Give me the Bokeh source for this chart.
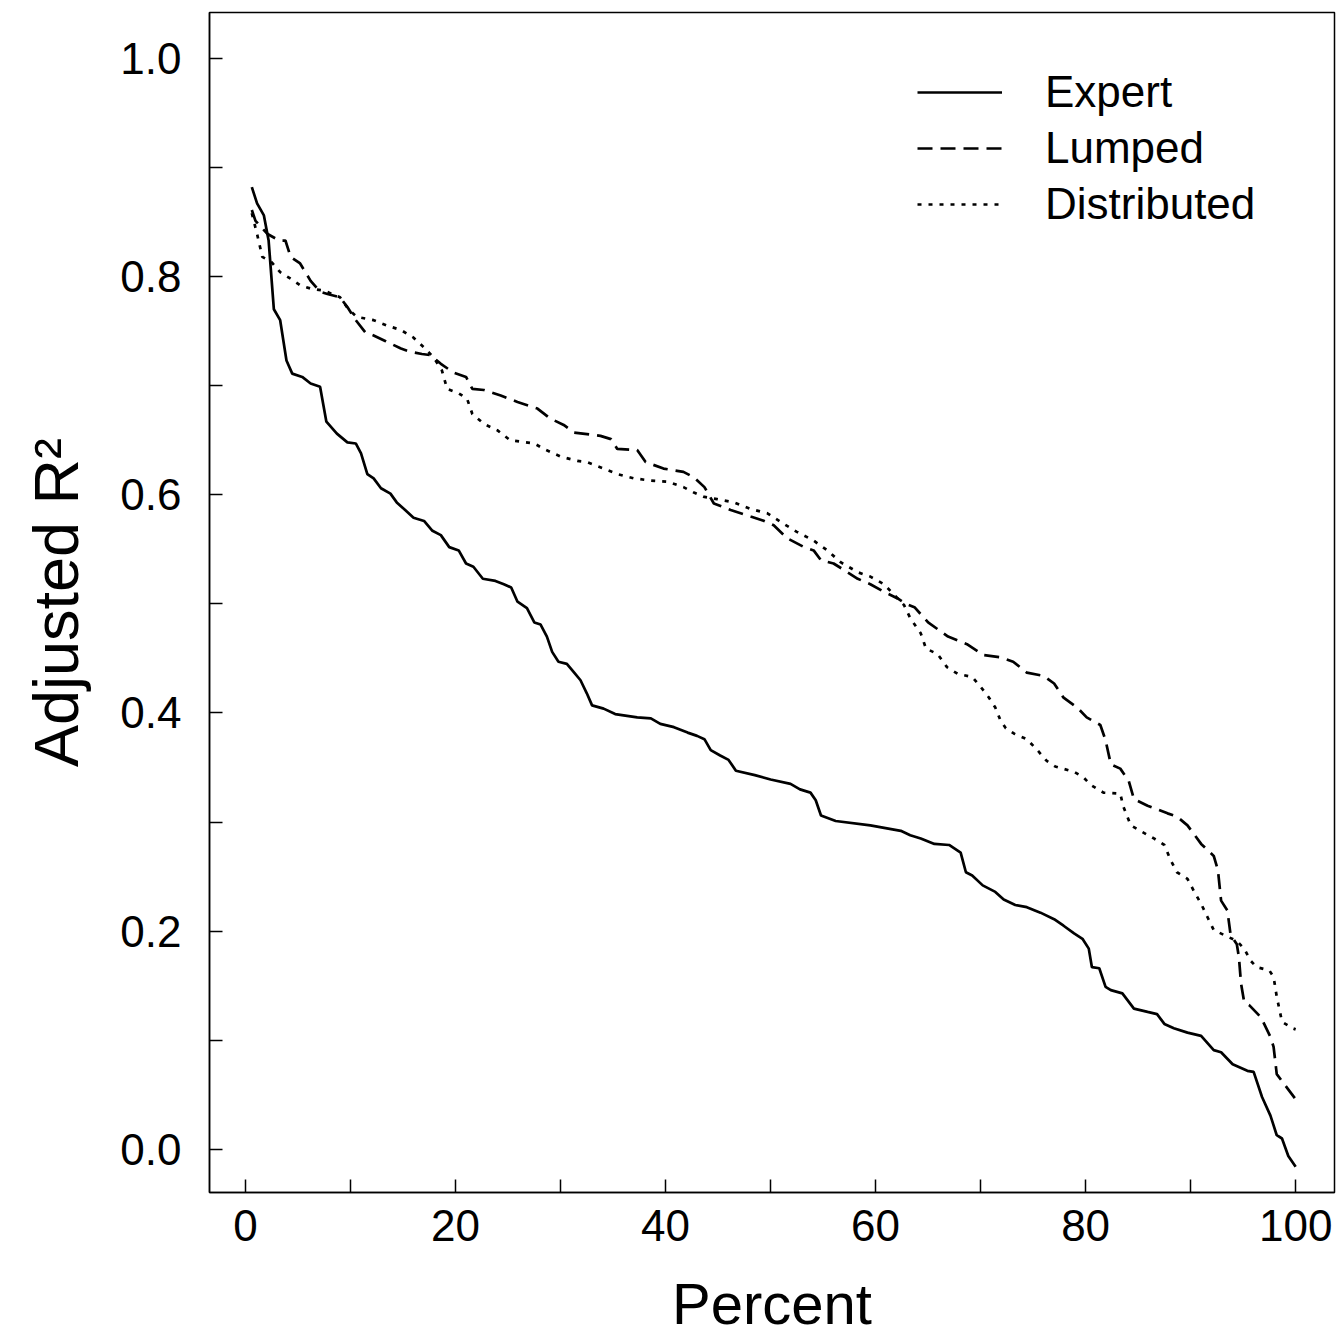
from bokeh.plotting import figure
from bokeh.models import Range1d, FixedTicker, PrintfTickFormatter, Legend, LegendItem
from bokeh.embed import file_html
from bokeh.resources import INLINE

# ---- data ----
expert_x = [0.6, 1.1, 1.75, 2.2, 2.7, 3.3, 3.9, 4.45, 5.4, 6.2, 7.1, 7.7, 8.7, 9.7, 10.5, 11.0, 11.6, 12.2, 12.9, 13.8,
            14.4, 15.2, 16.0, 17.0, 17.8, 18.6, 19.4, 20.3, 21.0, 21.7, 22.6, 23.8, 24.6, 25.3, 25.9, 26.8, 27.5, 28.1,
            28.7, 29.2, 29.8, 30.6, 31.3, 31.9, 32.5, 33.0, 34.1, 35.2, 37.3, 38.6, 39.5, 40.8, 42.1, 43.0, 43.7, 44.3,
            45.2, 46.0, 46.7, 48.5, 50.0, 51.9, 52.8, 53.8, 54.3, 54.8, 56.2, 59.5, 62.4, 63.3, 64.3, 65.6, 67.0, 68.1,
            68.6, 69.2, 70.2, 71.4, 72.2, 73.3, 74.4, 75.7, 77.0, 77.9, 78.9, 79.7, 80.3, 80.6, 81.3, 81.9, 82.4, 83.5,
            84.6, 85.9, 86.8, 87.5, 88.4, 89.7, 91.0, 92.2, 92.9, 94.0, 95.4, 96.0, 96.8, 97.6, 98.2, 98.7, 99.3, 100.0]
expert_y = [0.882, 0.867, 0.856, 0.833, 0.770, 0.760, 0.723, 0.711, 0.708, 0.702, 0.699, 0.667, 0.656, 0.648, 0.647,
            0.638, 0.619, 0.615, 0.606, 0.601, 0.593, 0.586, 0.579, 0.576, 0.567, 0.563, 0.552, 0.549, 0.537, 0.534,
            0.523, 0.521, 0.518, 0.515, 0.502, 0.496, 0.483, 0.481, 0.470, 0.456, 0.447, 0.445, 0.437, 0.430, 0.418,
            0.407, 0.404, 0.399, 0.396, 0.395, 0.390, 0.387, 0.382, 0.379, 0.376, 0.366, 0.361, 0.357, 0.347, 0.343,
            0.339, 0.335, 0.330, 0.327, 0.320, 0.306, 0.301, 0.297, 0.292, 0.288, 0.285, 0.280, 0.279, 0.272, 0.254,
            0.251, 0.242, 0.236, 0.229, 0.224, 0.222, 0.217, 0.211, 0.205, 0.198, 0.193, 0.184, 0.167, 0.166, 0.149,
            0.146, 0.143, 0.129, 0.126, 0.124, 0.115, 0.111, 0.107, 0.104, 0.091, 0.089, 0.078, 0.072, 0.071, 0.048,
            0.031, 0.013, 0.010, -0.006, -0.016]

lumped_x = [0.6, 0.95, 2.1, 3.2, 3.8, 4.3, 5.2, 6.2, 7.1, 7.8, 9.0, 9.7, 10.5, 11.4, 12.2, 13.3, 14.8, 15.7, 16.8, 17.6,
            18.6, 19.8, 21.0, 21.6, 22.7, 24.3, 25.9, 27.8, 29.0, 30.3, 31.3, 33.8, 34.8, 35.4, 37.3, 38.1, 39.8, 41.7,
            42.7, 43.7, 44.6, 46.2, 48.1, 49.4, 50.3, 51.6, 53.2, 54.1, 54.8, 56.0, 57.0, 58.3, 59.5, 60.8, 62.1, 62.9,
            63.7, 65.0, 66.9, 68.7, 70.3, 71.9, 73.1, 74.4, 76.0, 77.0, 77.9, 79.2, 80.1, 81.4, 81.9, 82.4, 83.3, 84.1,
            84.6, 85.9, 87.8, 88.7, 89.7, 91.0, 92.2, 92.6, 92.9, 93.5, 93.8, 94.4, 94.6, 94.8, 95.1, 95.6, 96.7, 97.6,
            97.9, 98.2, 98.9, 100.0]
lumped_y = [0.861, 0.851, 0.839, 0.833, 0.833, 0.818, 0.812, 0.796, 0.786, 0.784, 0.781, 0.772, 0.760, 0.749, 0.746,
            0.741, 0.734, 0.731, 0.729, 0.728, 0.720, 0.712, 0.708, 0.697, 0.696, 0.691, 0.685, 0.679, 0.670, 0.664,
            0.657, 0.654, 0.651, 0.642, 0.641, 0.630, 0.624, 0.621, 0.616, 0.607, 0.592, 0.586, 0.580, 0.576, 0.572,
            0.560, 0.552, 0.549, 0.540, 0.537, 0.531, 0.523, 0.518, 0.511, 0.505, 0.500, 0.497, 0.483, 0.470, 0.463,
            0.453, 0.451, 0.447, 0.437, 0.434, 0.427, 0.414, 0.405, 0.396, 0.389, 0.375, 0.353, 0.349, 0.338, 0.321,
            0.315, 0.308, 0.305, 0.297, 0.280, 0.269, 0.256, 0.228, 0.219, 0.197, 0.188, 0.176, 0.152, 0.135, 0.132,
            0.121, 0.103, 0.094, 0.069, 0.060, 0.046]

distributed_x = [0.6, 1.1, 1.6, 2.5, 3.3, 4.3, 5.2, 6.2, 7.5, 9.0, 9.8, 10.6, 12.2, 13.5, 14.8, 16.0, 17.0, 17.9, 18.7,
                 19.2, 20.3, 21.1, 21.6, 22.7, 24.0, 25.2, 27.5, 28.4, 30.0, 31.6, 32.5, 34.1, 35.4, 37.0, 38.6, 40.2,
                 41.7, 42.7, 43.7, 44.9, 46.5, 48.1, 49.7, 51.3, 52.5, 54.1, 55.4, 56.7, 58.3, 59.5, 60.8, 61.8, 62.7,
                 63.3, 64.3, 64.8, 65.9, 66.8, 67.8, 69.2, 70.0, 70.8, 71.4, 71.9, 72.4, 73.2, 74.4, 75.4, 76.3, 77.1,
                 78.9, 79.8, 80.5, 81.7, 83.3, 83.6, 84.3, 85.2, 86.5, 87.5, 88.1, 88.7, 89.7, 90.3, 91.0, 91.6, 92.2,
                 93.3, 94.4, 95.1, 95.7, 96.3, 97.5, 97.9, 98.2, 98.7, 99.7, 100.0]
distributed_y = [0.858, 0.839, 0.818, 0.813, 0.804, 0.798, 0.792, 0.789, 0.787, 0.781, 0.770, 0.763, 0.760, 0.755,
                 0.751, 0.744, 0.735, 0.726, 0.714, 0.697, 0.693, 0.688, 0.674, 0.665, 0.659, 0.650, 0.647, 0.642,
                 0.635, 0.631, 0.630, 0.624, 0.619, 0.615, 0.613, 0.612, 0.607, 0.602, 0.598, 0.596, 0.593, 0.587,
                 0.583, 0.573, 0.566, 0.558, 0.549, 0.538, 0.529, 0.525, 0.518, 0.508, 0.499, 0.487, 0.473, 0.459,
                 0.454, 0.442, 0.436, 0.433, 0.424, 0.414, 0.405, 0.393, 0.386, 0.381, 0.376, 0.366, 0.356, 0.351,
                 0.346, 0.341, 0.334, 0.327, 0.326, 0.314, 0.297, 0.292, 0.285, 0.279, 0.265, 0.254, 0.248, 0.237,
                 0.225, 0.213, 0.201, 0.196, 0.191, 0.184, 0.173, 0.167, 0.164, 0.158, 0.140, 0.117, 0.111, 0.110]

series_names = ["Expert", "Lumped", "Distributed"]
x_major = [0, 20, 40, 60, 80, 100]
x_minor = [10, 30, 50, 70, 90]
y_major = [0.0, 0.2, 0.4, 0.6, 0.8, 1.0]
y_minor = [0.1, 0.3, 0.5, 0.7, 0.9]
x_title = "Percent"
y_title = "Adjusted R²"

FONT = "Liberation Sans"

p = figure(width=1336, height=1338, output_backend="svg", toolbar_location=None,
           x_range=Range1d(-3.43, 103.7), y_range=Range1d(-0.0395, 1.042),
           min_border_left=209, min_border_right=2, min_border_top=12, min_border_bottom=146)

p.xgrid.visible = False
p.ygrid.visible = False
p.background_fill_color = "white"
p.border_fill_color = "white"
p.outline_line_color = "black"
p.outline_line_width = 1.5

r1 = p.line(expert_x, expert_y, line_color="black", line_width=2.7)
r2 = p.line(lumped_x, lumped_y, line_color="black", line_width=2.7, line_dash="15 8")
r3 = p.line(distributed_x, distributed_y, line_color="black", line_width=2.7, line_dash="4 7")

for ax, maj, mn in ((p.xaxis[0], x_major, x_minor), (p.yaxis[0], y_major, y_minor)):
    ax.ticker = FixedTicker(ticks=maj, minor_ticks=mn)
    ax.axis_line_color = "black"
    ax.axis_line_width = 1.5
    ax.major_tick_in = 13
    ax.major_tick_out = 0
    ax.minor_tick_in = 13
    ax.minor_tick_out = 0
    ax.major_tick_line_color = "black"
    ax.minor_tick_line_color = "black"
    ax.major_tick_line_width = 1.5
    ax.minor_tick_line_width = 1.5
    ax.major_label_text_font = FONT
    ax.major_label_text_font_size = "44px"
    ax.major_label_text_color = "black"
    ax.axis_label_text_font = FONT
    ax.axis_label_text_font_style = "normal"
    ax.axis_label_text_color = "black"

p.yaxis[0].formatter = PrintfTickFormatter(format="%.1f")
p.xaxis[0].major_label_standoff = 17
p.xaxis[0].axis_label = x_title
p.xaxis[0].axis_label_text_font_size = "58px"
p.xaxis[0].axis_label_standoff = 27
p.yaxis[0].axis_label = y_title
p.yaxis[0].axis_label_text_font_size = "63px"
p.yaxis[0].major_label_standoff = 28
p.yaxis[0].axis_label_standoff = 26

legend = Legend(items=[LegendItem(label=series_names[0], renderers=[r1]),
                       LegendItem(label=series_names[1], renderers=[r2]),
                       LegendItem(label=series_names[2], renderers=[r3])],
                location=(708, 960))
legend.label_text_font = FONT
legend.label_text_font_size = "44px"
legend.label_text_color = "black"
legend.glyph_width = 85
legend.glyph_height = 56
legend.label_height = 56
legend.label_standoff = 43
legend.spacing = 0
legend.padding = 0
legend.margin = 0
legend.border_line_alpha = 0
legend.background_fill_alpha = 0
p.add_layout(legend)

open("out.html", "w").write(file_html(p, INLINE))
